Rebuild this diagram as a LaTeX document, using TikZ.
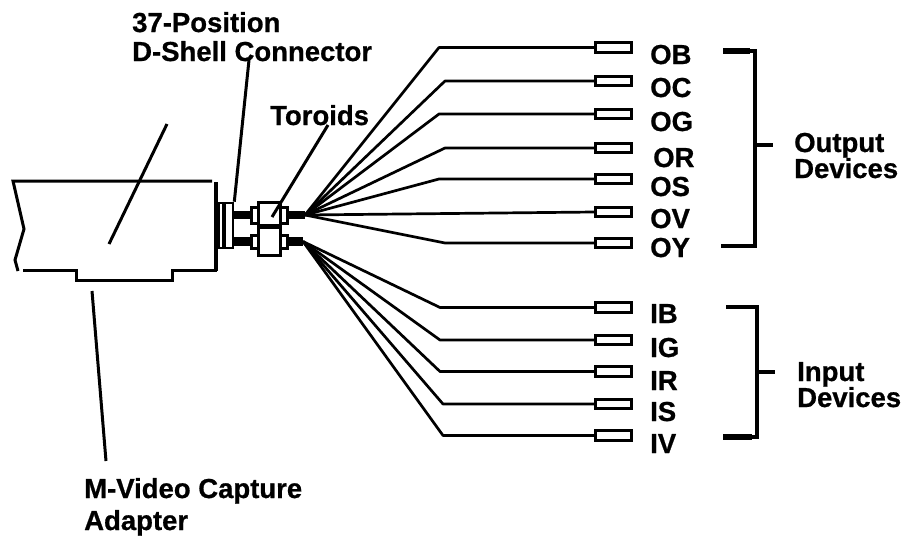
\documentclass[tikz,border=0pt]{standalone}
\usepackage{fontspec}
\setmainfont{Liberation Sans}[BoldFont={Liberation Sans Bold},BoldFeatures={FakeBold=0.7}]
\tikzset{
  lab/.style={anchor=base west,inner sep=0pt,font=\fontsize{27.5}{27.5}\selectfont\bfseries},
  stub/.style={draw,fill=white,line width=2.6pt,minimum width=36pt,minimum height=9.5pt,inner sep=0pt},
  wire/.style={line width=2.7pt,line join=round},
  lead/.style={line width=3pt},
  outline/.style={line width=3pt,line join=miter},
  brk/.style={line width=3.8pt,line join=miter},
  tor/.style={draw,fill=white,line width=3pt,inner sep=0pt},
  cable/.style={line width=8.5pt}
}
\begin{document}
\begin{tikzpicture}[x=1pt,y=-1pt]
\useasboundingbox (0,0) rectangle (902,536);
% adapter board
\coordinate (bTL) at (13,181);
\coordinate (bTR) at (212,181);
\draw[outline] (bTR) -- (bTL) -- (24,229) -- (15,260) -- (18,271);
\draw[outline] (23,270) -- (76,270) -- (76,280) -- (172,280) -- (172,270) -- (217,270);
\draw[line width=3.4pt] (216,182) -- (216,271);
% D-shell
\node[draw,fill=white,line width=2.6pt,minimum width=17pt,minimum height=45pt,inner sep=0pt] (shell) at (224.5,225.5) {};
\draw[line width=4.5pt] (218,204) -- (218,247);
\draw[line width=4.2pt] (224,204) -- (224,247);
% toroids
\node[tor,minimum width=7pt,minimum height=16pt] (fUL) at (254.5,215) {};
\node[tor,minimum width=7pt,minimum height=16pt] (fUR) at (283.5,215) {};
\node[tor,minimum width=7pt,minimum height=13pt] (fLL) at (254.5,241.5) {};
\node[tor,minimum width=7pt,minimum height=13pt] (fLR) at (283.5,241.5) {};
\coordinate (hubU) at (305,215);
\coordinate (hubL) at (303,241.5);
\draw[cable] (shell.east |- fUL) -- (fUL.west);
\draw[cable] (shell.east |- fLL) -- (fLL.west);
\draw[cable] (fUR.east) -- (hubU);
\draw[cable] (fLR.east) -- (hubL);
\node[tor,minimum width=22pt,minimum height=25pt] (torU) at (269,214.5) {};
\node[tor,minimum width=22pt,minimum height=28pt] (torL) at (269,241.5) {};
\draw[line width=4.5pt] (torL.north west) -- (torL.north east);
% stubs
\foreach \n/\y in {OB/47.5,OC/81,OG/114,OR/148,OS/179,OV/212,OY/243,IB/307.5,IG/340,IR/371.5,IS/404,IV/435.5}
  \node[stub] (s\n) at (613.5,\y) {};
% output wires
\coordinate (bOB) at (439,47.5);
\coordinate (bOC) at (445,81);
\coordinate (bOG) at (439,114);
\coordinate (bOR) at (445,148);
\coordinate (bOS) at (439,179);
\coordinate (bOY) at (445,243);
\foreach \n in {OB,OC,OG,OR,OS} \draw[wire] (hubU) -- (b\n) -- (s\n.west);
\draw[wire] (hubU) -- (sOV.west);
\draw[wire] (hubU) -- (bOY) -- (sOY.west);
% input wires
\coordinate (bIB) at (440,307.5);
\coordinate (bIG) at (440,340);
\coordinate (bIR) at (440,371.5);
\coordinate (bIS) at (443,404);
\coordinate (bIV) at (443,435.5);
\foreach \n in {IB,IG,IR,IS,IV} \draw[wire] (hubL) -- (b\n) -- (s\n.west);
% device labels
\foreach \n/\x/\y in {OB/650/64,OC/650/97,OG/650/131,OR/653/167,OS/650/196,OV/650/228,OY/650/257,IB/650/323,IG/650/357,IR/650/390,IS/650/421,IV/650/453}
  \node[lab] (t\n) at (\x,\y) {\n};
% brackets
\coordinate (oT) at (723,51);
\coordinate (oB) at (721,246);
\coordinate (oM) at (755,145);
\draw[brk] (oT) -- (755,51) -- (755,246) -- (oB);
\draw[line width=5.5pt] (oT) -- (750,51);
\node[lab] (tOut) at (794,152) {Output};
\node[lab] (tOutD) at (794,178) {Devices};
\draw[brk] (oM) -- (773,145);
\coordinate (iT) at (726,307);
\coordinate (iB) at (723,437);
\coordinate (iM) at (757,372);
\draw[brk] (iT) -- (757,307) -- (757,437) -- (iB);
\draw[line width=5.5pt] (iB) -- (752,437);
\draw[line width=4.4pt] (757,307) -- (757,437);
\node[lab] (tIn) at (797,381) {Input};
\node[lab] (tInD) at (797,407) {Devices};
\draw[brk] (iM) -- (775,372);
% titles and leaders
\node[lab] (t37) at (132,32) {37-Position};
\node[lab] (tDS) at (132,61) {D-Shell Connector};
\node[lab] (tTor) at (270,125) {Toroids};
\node[lab] (tMV) at (84,498) {M-Video Capture};
\node[lab] (tAd) at (84,530) {Adapter};
\coordinate (lDS) at (249,60);
\coordinate (lTor) at (328,125);
\draw[lead] (lDS) -- (shell.north east);
\draw[lead] (lTor) -- (272,217);
\coordinate (lBt) at (167,124);
\coordinate (lBb) at (109,244);
\draw[lead] (lBt) -- (lBb);
\coordinate (lMt) at (92,291);
\coordinate (lMb) at (106,461);
\draw[lead] (lMt) -- (lMb);
\end{tikzpicture}
\end{document}
